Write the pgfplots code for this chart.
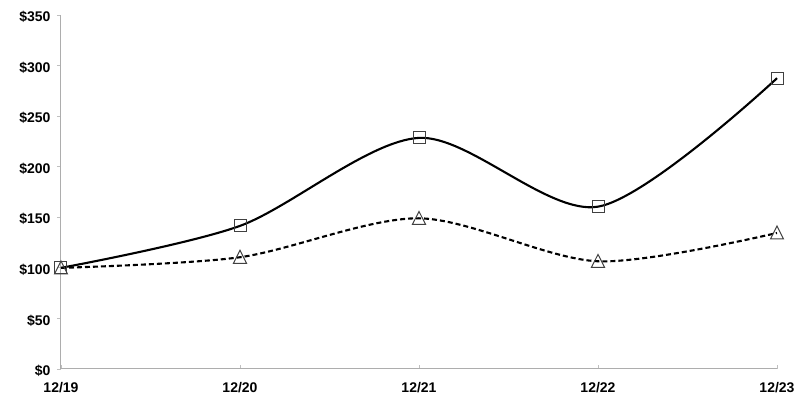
\documentclass[border=0pt]{standalone}
\usepackage{pgfplots}
\pgfplotsset{compat=1.18}
\usepackage{fontspec}
\setmainfont{Liberation Sans}
\begin{document}
\begin{tikzpicture}[x=1bp,y=1bp]
\begin{axis}[name=ax,scale only axis,width=716bp,height=354bp,
  at={(0,0)},anchor=south west,
  xmin=0,xmax=4,ymin=0,ymax=350,
  xtick={0,1,2,3,4},xticklabels={12/19,12/20,12/21,12/22,12/23},
  ytick={0,50,...,350},
  yticklabel={\$\pgfmathprintnumber{\tick}},
  /pgf/number format/assume math mode=true,
  tick label style={font=\fontsize{14bp}{16bp}\selectfont\bfseries},
  axis x line*=bottom,axis y line*=left,
  axis line style={draw=black!32,line width=1bp,-},
  x tick style={draw=black!25,line width=0.8bp},
  y tick style={draw=black!25,line width=0.8bp},
  xtick align=inside,ytick align=outside,
  major tick length=4bp,
  xticklabel style={yshift=-10bp},
  yticklabel style={xshift=-3bp,yshift=-2bp},
  clip=false]
\addplot[black,line width=2.1bp,smooth,tension=0.5,mark=square,
  mark size=6bp,mark options={solid,draw=black!75,fill=white,line width=1bp}]
  coordinates {(0,100) (1,141.5) (2,228.5) (3,160.5) (4,287.5)};
\addplot[black,line width=2.1bp,dash pattern=on 5bp off 3bp,smooth,tension=0.5,mark=triangle,
  mark size=7.5bp,mark options={solid,draw=black!75,fill=white,line width=1bp,yscale=1.15,yshift=-1.5bp}]
  coordinates {(0,100) (1,110.5) (2,149) (3,106.5) (4,134.5)};
\end{axis}
\path (-61bp,-39bp) (749bp,369bp);
\end{tikzpicture}
\end{document}
